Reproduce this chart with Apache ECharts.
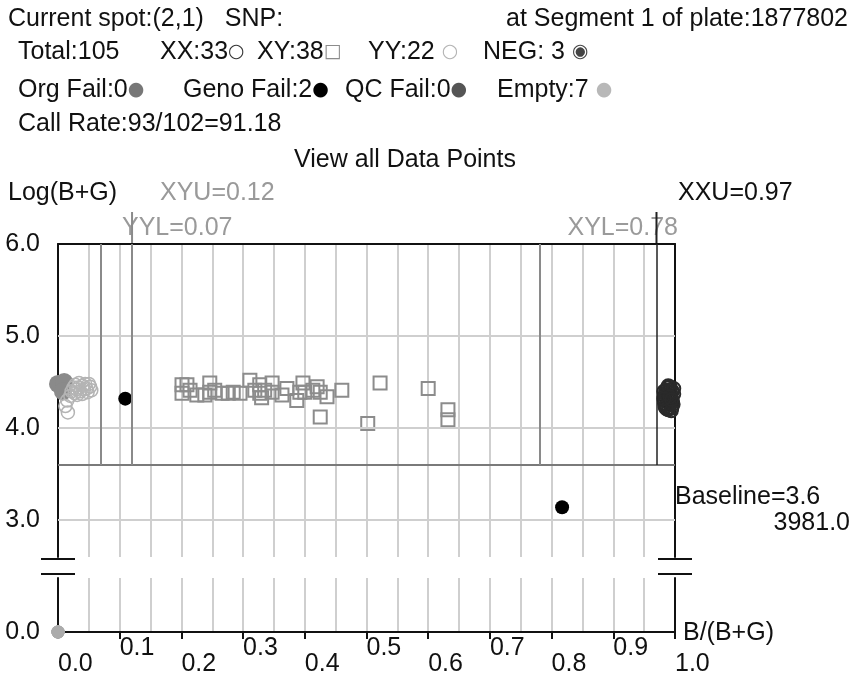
<!DOCTYPE html>
<html>
<head>
<meta charset="utf-8">
<script src="https://cdn.jsdelivr.net/npm/echarts@6/dist/echarts.min.js"></script>
<style>
  html, body { margin: 0; padding: 0; background: #fff; }
  #main { width: 852px; height: 679px; }
</style>
</head>
<body>
<div id="main"></div>
<script>
// genotype calls, [B/(B+G), Log(B+G)]
const xxPoints = [
  [0.988, 4.44], [0.992, 4.42], [0.996, 4.40], [0.985, 4.38], [0.983, 4.35], [0.990, 4.36],
  [0.994, 4.33], [0.984, 4.30], [0.988, 4.28], [0.992, 4.26], [0.996, 4.29], [0.986, 4.24],
  [0.990, 4.22], [0.995, 4.22], [0.983, 4.27], [0.982, 4.40], [0.992, 4.45], [0.998, 4.37],
  [0.988, 4.32], [0.985, 4.41], [0.993, 4.39], [0.987, 4.35], [0.991, 4.30], [0.997, 4.26],
  [0.984, 4.23], [0.989, 4.20], [0.994, 4.19], [0.986, 4.21], [0.998, 4.43], [0.989, 4.46],
  [0.992, 4.34], [0.982, 4.32], [0.995, 4.31]
]
const xyPoints = [
  [0.201, 4.47], [0.201, 4.38], [0.209, 4.47], [0.214, 4.41], [0.225, 4.36], [0.238, 4.36],
  [0.246, 4.49], [0.246, 4.39], [0.254, 4.41], [0.266, 4.38], [0.276, 4.38], [0.284, 4.39],
  [0.295, 4.38], [0.311, 4.52], [0.319, 4.41], [0.327, 4.47], [0.327, 4.38], [0.330, 4.33],
  [0.335, 4.41], [0.347, 4.49], [0.347, 4.39], [0.363, 4.36], [0.371, 4.43], [0.387, 4.30],
  [0.392, 4.39], [0.397, 4.49], [0.400, 4.39], [0.413, 4.41], [0.420, 4.45], [0.425, 4.39],
  [0.436, 4.34], [0.425, 4.12], [0.460, 4.41], [0.502, 4.05], [0.522, 4.49], [0.600, 4.43],
  [0.632, 4.20], [0.632, 4.09]
]
const yyPoints = [
  [0.028, 4.47], [0.033, 4.44], [0.040, 4.46], [0.046, 4.43], [0.052, 4.45], [0.036, 4.40],
  [0.030, 4.42], [0.044, 4.48], [0.025, 4.44], [0.039, 4.37], [0.022, 4.40], [0.048, 4.39],
  [0.054, 4.41], [0.034, 4.49], [0.042, 4.42], [0.027, 4.38], [0.050, 4.48], [0.020, 4.35],
  [0.015, 4.30], [0.031, 4.36], [0.012, 4.24], [0.016, 4.17]
]
const negPoints = [[0.0, 4.48], [0.010, 4.50], [0.008, 4.40]]
const genoFailPoints = [[0.109, 4.32], [0.817, 3.14]]
const emptyPoints = [[0, 0], [0, 0], [0, 0], [0, 0], [0, 0], [0, 0], [0, 0]]

// cut-offs
const thresholdNames = ['YYL', 'XYU', 'XYL', 'XXU']
const thresholdValues = [0.07, 0.12, 0.78, 0.97]
const baselineValue = 3.6
const gridLineValues = [3, 4, 5]

const FONT = 'Liberation Sans'
const chart = echarts.init(document.getElementById('main'))

const grey = '#cfcfcf'
const symFont = '19px "DejaVu Sans"'
const symRich = {
  xx: { fill: '#333', font: symFont },
  xy: { fill: '#8c8c8c', font: symFont },
  yy: { fill: '#b4b4b4', font: symFont },
  neg: { fill: '#444', font: symFont },
  org: { fill: '#777', font: symFont },
  geno: { fill: '#000', font: symFont },
  qc: { fill: '#555', font: symFont },
  emp: { fill: '#b8b8b8', font: symFont }
}

function txt(x, y, text, opt) {
  return {
    type: 'text', x: x, y: y,
    style: Object.assign({ text: text, fill: '#111', font: '25px "' + FONT + '"', verticalAlign: 'middle', rich: symRich }, opt || {})
  }
}
function brk(cx, y) {
  return { type: 'line', shape: { x1: cx - 17, y1: y, x2: cx + 17, y2: y }, style: { stroke: '#111', lineWidth: 2 } }
}
function thrColor(name) { return name === 'XXU' ? '#222' : '#8a8a8a' }

const thrLines = thresholdValues.map(function (v, i) {
  return [
    { coord: [v, baselineValue], lineStyle: { color: thrColor(thresholdNames[i]), width: thresholdNames[i] === 'XXU' ? 1.5 : 2, type: 'solid' } },
    { coord: [v, 6] }
  ]
})

const option = {
  animation: false,
  grid: [
    { left: 58, top: 244, width: 617, height: 313 },
    { left: 58, top: 578, width: 617, height: 54 }
  ],
  xAxis: [
    {
      gridIndex: 0, type: 'value', min: 0, max: 1, interval: 0.1, position: 'top',
      axisLine: { show: true, onZero: false, lineStyle: { color: '#111', width: 2 } },
      axisTick: { show: false }, axisLabel: { show: false },
      splitLine: { show: true, lineStyle: { color: grey, width: 2 } },
      minorTick: { show: false, splitNumber: 2 },
      minorSplitLine: { show: true, lineStyle: { color: grey, width: 2 } }
    },
    {
      gridIndex: 1, type: 'value', min: 0, max: 1, interval: 0.1, position: 'bottom',
      axisLine: { show: true, onZero: false, lineStyle: { color: '#111', width: 2 } },
      axisTick: { show: true, length: 7, lineStyle: { color: '#111', width: 2 } },
      axisLabel: {
        show: true, align: 'left', margin: 4, showMinLabel: true, showMaxLabel: true, hideOverlap: false,
        formatter: function (v) {
          const k = Math.round(v * 10)
          return (k % 2 ? '{o|' : '{e|') + v.toFixed(1) + '}'
        },
        rich: {
          o: { fontFamily: FONT, fontSize: 25, color: '#111' },
          e: { fontFamily: FONT, fontSize: 25, color: '#111', padding: [16, 0, 0, 0] }
        }
      },
      splitLine: { show: true, lineStyle: { color: grey, width: 2 } },
      minorTick: { show: false, splitNumber: 2 },
      minorSplitLine: { show: true, lineStyle: { color: grey, width: 2 } }
    }
  ],
  yAxis: [
    {
      gridIndex: 0, type: 'value', min: 2.6, max: 6, interval: 0.2, position: 'left',
      axisLine: { show: true, onZero: false, lineStyle: { color: '#111', width: 2 } },
      axisTick: { show: false }, splitLine: { show: false },
      axisLabel: {
        margin: 18, fontFamily: FONT, fontSize: 25, color: '#111',
        formatter: function (v) { return Math.abs(v - Math.round(v)) < 1e-6 ? v.toFixed(1) : '' }
      }
    },
    {
      gridIndex: 0, type: 'value', min: 2.6, max: 6, interval: 0.2, position: 'right',
      axisLine: { show: true, onZero: false, lineStyle: { color: '#111', width: 2 } },
      axisTick: { show: false }, splitLine: { show: false }, axisLabel: { show: false }
    },
    {
      gridIndex: 1, type: 'value', min: 0, max: 0.6, interval: 0.6, position: 'left',
      axisLine: { show: true, onZero: false, lineStyle: { color: '#111', width: 2 } },
      axisTick: { show: false }, splitLine: { show: false },
      axisLabel: {
        margin: 18, fontFamily: FONT, fontSize: 25, color: '#111', showMaxLabel: false,
        formatter: function (v) { return v === 0 ? '0.0' : '' }
      }
    },
    {
      gridIndex: 1, type: 'value', min: 0, max: 0.6, interval: 0.6, position: 'right',
      axisLine: { show: true, onZero: false, lineStyle: { color: '#111', width: 2 } },
      axisTick: { show: false }, splitLine: { show: false }, axisLabel: { show: false }
    }
  ],
  series: [
    {
      type: 'scatter', xAxisIndex: 0, yAxisIndex: 0, data: [], silent: true,
      markLine: {
        silent: true, symbol: 'none', label: { show: false }, animation: false,
        data: gridLineValues.map(function (v) {
          return { yAxis: v, lineStyle: { color: grey, width: 2, type: 'solid' } }
        }).concat([
          [{ coord: [0, baselineValue], lineStyle: { color: '#7a7a7a', width: 2, type: 'solid' } }, { coord: [1, baselineValue] }]
        ]).concat(thrLines)
      }
    },
    {
      name: 'NEG', type: 'scatter', xAxisIndex: 0, yAxisIndex: 0, data: negPoints,
      symbol: 'circle', symbolSize: 18, itemStyle: { color: '#8a8a8a', opacity: 1 }
    },
    {
      name: 'YY', type: 'scatter', xAxisIndex: 0, yAxisIndex: 0, data: yyPoints,
      symbol: 'circle', symbolSize: 13,
      itemStyle: { color: 'rgba(0,0,0,0)', borderColor: '#b4b4b4', borderWidth: 1.5, opacity: 1 }
    },
    {
      name: 'XY', type: 'scatter', xAxisIndex: 0, yAxisIndex: 0, data: xyPoints,
      symbol: 'rect', symbolSize: 13,
      itemStyle: { color: 'rgba(0,0,0,0)', borderColor: '#8c8c8c', borderWidth: 2, opacity: 1 }
    },
    {
      name: 'XX', type: 'scatter', xAxisIndex: 0, yAxisIndex: 0, data: xxPoints,
      symbol: 'circle', symbolSize: 13,
      itemStyle: { color: 'rgba(0,0,0,0)', borderColor: '#2a2a2a', borderWidth: 2, opacity: 1 }
    },
    {
      name: 'Geno Fail', type: 'scatter', xAxisIndex: 0, yAxisIndex: 0, data: genoFailPoints,
      symbol: 'circle', symbolSize: 14, itemStyle: { color: '#000', opacity: 1 }
    },
    {
      name: 'Empty', type: 'scatter', xAxisIndex: 1, yAxisIndex: 2, data: emptyPoints,
      symbol: 'circle', symbolSize: 13, itemStyle: { color: '#ababab', opacity: 1 }
    }
  ]
}

chart.setOption(option)

// upper cut-off lines poke above the frame, up to their labels
const topY = chart.convertToPixel({ yAxisIndex: 0 }, 6)
const extLines = thresholdValues.map(function (v, i) {
  if (thresholdNames[i].charAt(2) !== 'U') return null
  const px = chart.convertToPixel({ xAxisIndex: 0 }, v)
  return { type: 'line', shape: { x1: px, y1: topY, x2: px, y2: topY - 32 }, style: { stroke: thrColor(thresholdNames[i]), lineWidth: 2 } }
}).filter(Boolean)

function thrText(i) { return thresholdNames[i] + '=' + thresholdValues[i].toFixed(2) }

chart.setOption({
  graphic: {
    elements: [
      txt(8, 19, 'Current spot:(2,1)   SNP:'),
      txt(848, 19, 'at Segment 1 of plate:1877802', { align: 'right' }),
      txt(18, 52, 'Total:105'),
      txt(160, 52, 'XX:33{xx|○}'),
      txt(257, 52, 'XY:38{xy|□}'),
      txt(368, 52, 'YY:22 {yy|○}'),
      txt(483, 52, 'NEG: 3 {neg|◉}'),
      txt(18, 90, 'Org Fail:0{org|●}'),
      txt(183, 90, 'Geno Fail:2{geno|●}'),
      txt(345, 90, 'QC Fail:0{qc|●}'),
      txt(497, 90, 'Empty:7 {emp|●}'),
      txt(18, 124, 'Call Rate:93/102=91.18'),
      txt(405, 160, 'View all Data Points', { align: 'center' }),
      txt(8, 193, 'Log(B+G)'),
      txt(160, 193, thrText(1), { fill: '#9a9a9a' }),
      txt(678, 193, thrText(3)),
      txt(122, 228, thrText(0), { fill: '#9a9a9a' }),
      txt(678, 228, thrText(2), { fill: '#9a9a9a', align: 'right' }),
      txt(675, 497, 'Baseline=' + baselineValue.toFixed(1)),
      txt(850, 523, '3981.0', { align: 'right' }),
      txt(683, 633, 'B/(B+G)'),
      brk(58, 559), brk(58, 574), brk(675, 559), brk(675, 574)
    ].concat(extLines)
  }
})
</script>
</body>
</html>
